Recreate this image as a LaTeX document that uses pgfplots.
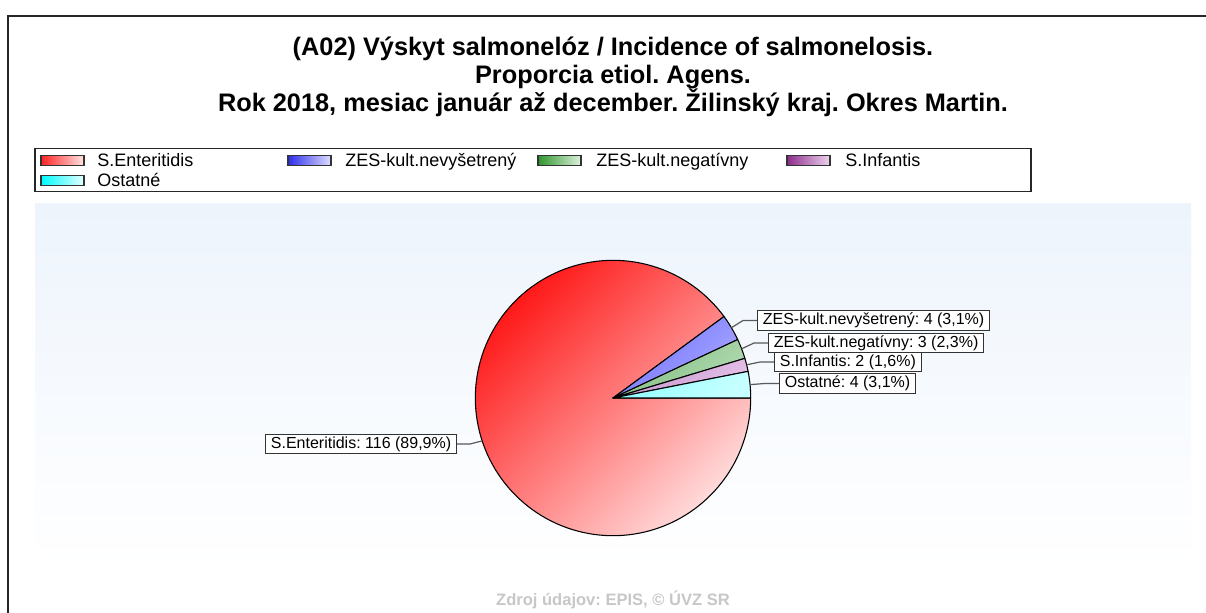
\documentclass[border=0pt]{standalone}
\usepackage{pgfplots}
\pgfplotsset{compat=1.18}
\usepackage{pgfplotstable}
\usepackage{fontspec}
\setmainfont{Liberation Sans}
\frenchspacing

\definecolor{bgblue}{RGB}{237,244,252}
\definecolor{redA}{RGB}{255,25,25}\definecolor{redB}{RGB}{255,218,218}
\definecolor{bluA}{RGB}{112,112,255}\definecolor{bluB}{RGB}{168,168,255}
\definecolor{grnA}{RGB}{128,188,128}\definecolor{grnB}{RGB}{178,218,178}
\definecolor{purA}{RGB}{198,148,204}\definecolor{purB}{RGB}{228,192,232}
\definecolor{cyaA}{RGB}{145,255,255}\definecolor{cyaB}{RGB}{198,255,255}
\definecolor{lgRed}{RGB}{255,35,35}\definecolor{lgRedL}{RGB}{255,228,228}
\definecolor{lgBlu}{RGB}{45,45,235}\definecolor{lgBluL}{RGB}{222,222,255}
\definecolor{lgGrn}{RGB}{45,150,45}\definecolor{lgGrnL}{RGB}{222,242,222}
\definecolor{lgPur}{RGB}{140,45,140}\definecolor{lgPurL}{RGB}{238,212,238}
\definecolor{lgCya}{RGB}{0,250,250}\definecolor{lgCyaL}{RGB}{228,255,255}

% counts per category (counter-clockwise from 0 degrees)
\pgfplotstableread{
name count
Ostatne 4
Infantis 2
Negativny 3
Nevysetreny 4
Enteritidis 116
}\piedata
\pgfplotstablegetelem{0}{count}\of\piedata \edef\cA{\pgfplotsretval}
\pgfplotstablegetelem{1}{count}\of\piedata \edef\cB{\pgfplotsretval}
\pgfplotstablegetelem{2}{count}\of\piedata \edef\cC{\pgfplotsretval}
\pgfplotstablegetelem{3}{count}\of\piedata \edef\cD{\pgfplotsretval}
\pgfplotstablegetelem{4}{count}\of\piedata \edef\cE{\pgfplotsretval}
\pgfmathsetmacro\tot{\cA+\cB+\cC+\cD+\cE}
\pgfmathsetmacro\aA{360*\cA/\tot}
\pgfmathsetmacro\aB{360*(\cA+\cB)/\tot}
\pgfmathsetmacro\aC{360*(\cA+\cB+\cC)/\tot}
\pgfmathsetmacro\aD{360*(\cA+\cB+\cC+\cD)/\tot}
\def\R{137.7}

\begin{document}
\begin{tikzpicture}[
  lbl/.style={draw=black!80, fill=white, line width=0.75pt, font=\fontsize{12}{14}\selectfont,
              text height=9pt, text depth=2.6pt, inner xsep=4pt, inner ysep=1.4pt},
  leader/.style={draw=black!65, line width=0.9pt},
]
\useasboundingbox (0pt,0pt) rectangle (904.5pt,-459pt);
\clip (0pt,0pt) rectangle (904.5pt,-459pt);
\fill[white] (0pt,0pt) rectangle (904.5pt,-459pt);
\begin{scope}[x=0.75pt,y=-0.75pt]
  % frame
  \draw[line width=1.5pt, black!85] (7.5,650) -- (7.5,15.5) -- (1220,15.5);
  % plot background
  \shade[top color=bgblue, bottom color=white] (35,203) rectangle (1191,565);
  % title
  \begin{scope}[every node/.style={anchor=base, inner sep=0pt, font=\bfseries\fontsize{19}{23}\selectfont}]
    \node at (613,55) {(A02) Výskyt salmonelóz / Incidence of salmonelosis.};
    \node at (613,83) {Proporcia etiol. Agens.};
    \node at (613,111) {Rok 2018, mesiac január až december. Žilinský kraj. Okres Martin.};
  \end{scope}
  % legend
  \draw[line width=1.1pt, black!85] (35,148.5) rectangle (1031,191.5);
  \begin{scope}[line width=1.3pt]
    \shade[left color=lgRed, right color=lgRedL, draw=black!80] (41,155.5) rectangle (84,165.5);
    \shade[left color=lgBlu, right color=lgBluL, draw=black!80] (288,155.5) rectangle (331,165.5);
    \shade[left color=lgGrn, right color=lgGrnL, draw=black!80] (538,155.5) rectangle (581,165.5);
    \shade[left color=lgPur, right color=lgPurL, draw=black!80] (787,155.5) rectangle (830,165.5);
    \shade[left color=lgCya, right color=lgCyaL, draw=black!80] (41,175.5) rectangle (84,185.5);
  \end{scope}
  \begin{scope}[every node/.style={anchor=base west, inner sep=0pt, font=\fontsize{13.5}{16}\selectfont}]
    \node at (97,166.7) {S.Enteritidis};
    \node at (345,166.7) {ZES-kult.nevyšetrený};
    \node at (596,166.7) {ZES-kult.negatívny};
    \node at (845,166.7) {S.Infantis};
    \node at (97,186.7) {Ostatné};
  \end{scope}
  % source
  \node[anchor=base, inner sep=0pt, font=\bfseries\fontsize{12.4}{14}\selectfont, text=black!22] at (613,605) {Zdroj údajov: EPIS, © ÚVZ SR};
\end{scope}

\begin{axis}[
  at={(26.25pt,-152.25pt)}, anchor=north west,
  scale only axis, width=867pt, height=271.5pt,
  xmin=-578, xmax=578, ymin=-167, ymax=195,
  hide axis, clip=false,
]
  \addplot[draw=black, line width=0.8pt, line join=round, top color=redA, bottom color=redB, shading angle=45,
           domain=\aD:360, samples=140, variable=\t]
     ({\R*cos(\t)},{\R*sin(\t)}) -- (axis cs:0,0) -- cycle;
  \addplot[draw=black, line width=0.8pt, line join=round, top color=bluA, bottom color=bluB, shading angle=45,
           domain=\aC:\aD, samples=15, variable=\t]
     ({\R*cos(\t)},{\R*sin(\t)}) -- (axis cs:0,0) -- cycle;
  \addplot[draw=black, line width=0.8pt, line join=round, top color=grnA, bottom color=grnB, shading angle=45,
           domain=\aB:\aC, samples=12, variable=\t]
     ({\R*cos(\t)},{\R*sin(\t)}) -- (axis cs:0,0) -- cycle;
  \addplot[draw=black, line width=0.8pt, line join=round, top color=purA, bottom color=purB, shading angle=45,
           domain=\aA:\aB, samples=10, variable=\t]
     ({\R*cos(\t)},{\R*sin(\t)}) -- (axis cs:0,0) -- cycle;
  \addplot[draw=black, line width=0.8pt, line join=round, top color=cyaA, bottom color=cyaB, shading angle=45,
           domain=0:\aA, samples=15, variable=\t]
     ({\R*cos(\t)},{\R*sin(\t)}) -- (axis cs:0,0) -- cycle;

  % leader lines
  \draw[leader] (axis cs:118.4,70.3) -- (axis cs:130,77.5) -- (axis cs:144,77.5);
  \draw[leader] (axis cs:128.6,49.2) -- (axis cs:141,55) -- (axis cs:155,55);
  \draw[leader] (axis cs:133.6,33.2) -- (axis cs:147,36) -- (axis cs:161,36);
  \draw[leader] (axis cs:137.0,13.4) -- (axis cs:152,14.5) -- (axis cs:166,14.5);
  \draw[leader] (axis cs:-130.9,-42.9) -- (axis cs:-143,-46) -- (axis cs:-156,-46);
  % labels
  \node[lbl, anchor=west] at (axis cs:144,77.5) {ZES-kult.nevyšetrený: 4 (3,1\%)};
  \node[lbl, anchor=west] at (axis cs:155,55) {ZES-kult.negatívny: 3 (2,3\%)};
  \node[lbl, anchor=west] at (axis cs:161,36) {S.Infantis: 2 (1,6\%)};
  \node[lbl, anchor=west] at (axis cs:166,14.5) {Ostatné: 4 (3,1\%)};
  \node[lbl, anchor=east] at (axis cs:-156,-46) {S.Enteritidis: 116 (89,9\%)};
\end{axis}
\end{tikzpicture}
\end{document}
